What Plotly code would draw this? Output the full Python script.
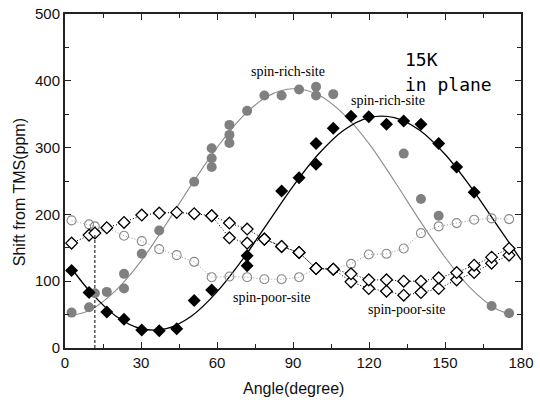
import plotly.graph_objects as go

# ---------------- data ----------------
# spin-rich-site (gray filled circles)
rich_a_angle = [2.6, 9.5, 11.8, 16.5, 23.3, 23.3, 30.3, 37.2, 51.0, 57.9, 57.9, 57.9,
                64.9, 64.9, 64.9, 71.9, 78.7, 85.5, 92.4, 99.1, 99.1, 105.9,
                133.7, 140.5, 147.5, 168.4, 175.3]
rich_a_shift = [53, 61, 82, 84, 111, 89, 141, 176, 249, 299, 284, 271,
                334, 319, 307, 355, 378, 378, 387, 391, 378, 380,
                291, 223, 198, 63, 52]
# fitted curve for gray filled circles
rich_a_fit_angle = [2.6, 10, 20, 30, 40, 50, 60, 70, 80, 90, 100, 110, 120,
                    130, 140, 150, 160, 170, 175.3]
rich_a_fit_shift = [49, 57, 86, 130, 186, 245, 300, 346, 377, 388, 379, 350, 306,
                    250, 191, 136, 90, 59, 51]

# spin-rich-site (black filled diamonds)
rich_b_angle = [2.6, 9.5, 16.5, 23.3, 30.3, 37.2, 44.1, 51.0, 57.9, 71.9, 71.9,
                85.5, 92.4, 99.1, 99.1, 105.9, 112.9, 119.9, 126.9, 133.7,
                140.5, 147.5, 154.6, 161.5]
rich_b_shift = [116, 83, 54, 43, 27, 26, 29, 71, 87, 138, 123,
                235, 255, 306, 275, 329, 347, 346, 335, 340,
                335, 306, 271, 233]
rich_b_fit_angle = [2.6, 10, 20, 30, 40, 50, 60, 70, 80, 90, 100, 110, 120,
                    130, 140, 150, 160, 170, 180]
rich_b_fit_shift = [119, 84, 48, 29, 29, 48, 84, 132, 187, 242, 290, 326, 345,
                    345, 326, 290, 242, 187, 132]

# spin-poor-site (gray open circles)
poor_a_angle = [2.6, 9.5, 11.8, 16.5, 23.3, 30.3, 37.2, 44.1, 51.0, 57.9, 64.9,
                71.9, 78.7, 85.5, 92.4, 99.1, 105.9, 112.9, 119.9, 126.9, 133.7,
                140.5, 147.5, 154.6, 161.5, 168.4, 175.3]
poor_a_shift = [191, 185, 182, 180, 168, 160, 148, 139, 129, 106, 107,
                106, 103, 103, 106, 119, 118, 126, 140, 141, 149,
                172, 182, 187, 192, 194, 193]

# spin-poor-site (black open diamonds), two branches
poor_b1_angle = [2.6, 9.5, 11.8, 16.5, 23.3, 30.3, 37.2, 44.1, 51.0, 57.9, 64.9,
                 71.9, 78.7, 85.5, 92.4, 99.1, 105.9, 112.9, 119.9, 126.9, 133.7,
                 140.5, 147.5, 154.6, 161.5, 168.4, 175.3]
poor_b1_shift = [157, 169, 172, 180, 188, 199, 202, 203, 201, 198, 187,
                 178, 163, 152, 143, 119, 118, 111, 102, 102, 100,
                 100, 105, 113, 124, 136, 149]
poor_b2_angle = [57.9, 64.9, 71.9, 78.7, 85.5, 92.4, 99.1, 105.9, 112.9, 119.9,
                 126.9, 133.7, 140.5, 147.5, 154.6, 161.5, 168.4, 175.3]
poor_b2_shift = [198, 165, 157, 163, 152, 143, 119, 118, 99, 89,
                 85, 79, 83, 89, 102, 113, 127, 139]

# dashed marker line
mark_angle = [11.8, 11.8]
mark_shift = [0, 172]

x_ticks = [0, 30, 60, 90, 120, 150, 180]
y_ticks = [0, 100, 200, 300, 400, 500]

GRAY = "#808080"

fig = go.Figure()

# fitted curves
fig.add_trace(go.Scatter(x=rich_a_fit_angle, y=rich_a_fit_shift, mode="lines",
                         line=dict(color="#8c8c8c", width=1.1, shape="spline"),
                         hoverinfo="skip"))
fig.add_trace(go.Scatter(x=rich_b_fit_angle, y=rich_b_fit_shift, mode="lines",
                         line=dict(color="black", width=1.3, shape="spline"),
                         hoverinfo="skip"))

# spin-poor dotted series
fig.add_trace(go.Scatter(x=poor_a_angle, y=poor_a_shift, mode="lines+markers",
                         line=dict(color="#9a9a9a", width=1, dash="1px,2px"),
                         marker=dict(symbol="circle-open", size=9,
                                     color="#8a8a8a", line=dict(width=1.1))))
fig.add_trace(go.Scatter(x=poor_b2_angle, y=poor_b2_shift, mode="lines+markers",
                         line=dict(color="black", width=1, dash="1px,2px"),
                         marker=dict(symbol="diamond", size=9, color="white",
                                     line=dict(color="black", width=1.3))))
fig.add_trace(go.Scatter(x=poor_b1_angle, y=poor_b1_shift, mode="lines+markers",
                         line=dict(color="black", width=1, dash="1px,2px"),
                         marker=dict(symbol="diamond", size=9, color="white",
                                     line=dict(color="black", width=1.3))))

# dashed vertical marker
fig.add_trace(go.Scatter(x=mark_angle, y=mark_shift, mode="lines",
                         line=dict(color="black", width=1, dash="3px,2px"),
                         hoverinfo="skip"))

# spin-rich filled markers
fig.add_trace(go.Scatter(x=rich_a_angle, y=rich_a_shift, mode="markers",
                         marker=dict(symbol="circle", size=10, color=GRAY)))
fig.add_trace(go.Scatter(x=rich_b_angle, y=rich_b_shift, mode="markers",
                         marker=dict(symbol="diamond", size=10, color="black")))

label_font = dict(family="Liberation Serif", size=14, color="black")
ann = [
    dict(x=88, y=413.6, text="spin-rich-site", xanchor="center", yanchor="middle"),
    dict(x=127.5, y=371, text="spin-rich-site", xanchor="center", yanchor="middle"),
    dict(x=81.7, y=75.3, text="spin-poor-site", xanchor="center", yanchor="middle"),
    dict(x=134.9, y=56.9, text="spin-poor-site", xanchor="center", yanchor="middle"),
]
annotations = [dict(a, xref="x", yref="y", showarrow=False, font=label_font) for a in ann]
mono = dict(family="DejaVu Sans Mono", size=18, color="black")
annotations += [
    dict(x=133.6, y=432, text="15K", xref="x", yref="y", xanchor="left",
         yanchor="middle", showarrow=False, font=mono),
    dict(x=133.6, y=395, text="in plane", xref="x", yref="y", xanchor="left",
         yanchor="middle", showarrow=False, font=mono),
    dict(x=-0.099, y=0.466, xref="paper", yref="paper", text="Shift from TMS(ppm)",
         textangle=-90, showarrow=False, xanchor="center", yanchor="middle",
         font=dict(family="Liberation Sans", size=16, color="#111")),
    dict(x=0.5, y=-0.12, xref="paper", yref="paper", text="Angle(degree)",
         showarrow=False, xanchor="center", yanchor="middle",
         font=dict(family="Liberation Sans", size=16, color="#111")),
]

axis_common = dict(showline=True, linecolor="#222", linewidth=2, mirror="allticks",
                   ticks="inside", ticklen=6, tickwidth=1.3, tickcolor="#222",
                   showgrid=False, zeroline=False, automargin=False,
                   tickfont=dict(family="Liberation Sans", size=15, color="#111"))

fig.update_layout(
    width=540, height=403,
    margin=dict(l=65, r=19, t=14, b=55),
    paper_bgcolor="white", plot_bgcolor="white",
    showlegend=False,
    annotations=annotations,
    xaxis=dict(axis_common, range=[0, 180], tickvals=x_ticks,
               minor=dict(dtick=15, tick0=0, ticks="inside", ticklen=4, tickcolor="#222")),
    yaxis=dict(axis_common, range=[0, 500], tickvals=y_ticks,
               minor=dict(dtick=50, tick0=0, ticks="inside", ticklen=4, tickcolor="#222")),
)

fig.write_html("out.html", config={"displayModeBar": False},
               post_script="document.body.style.margin='0';document.body.style.overflow='hidden';")
